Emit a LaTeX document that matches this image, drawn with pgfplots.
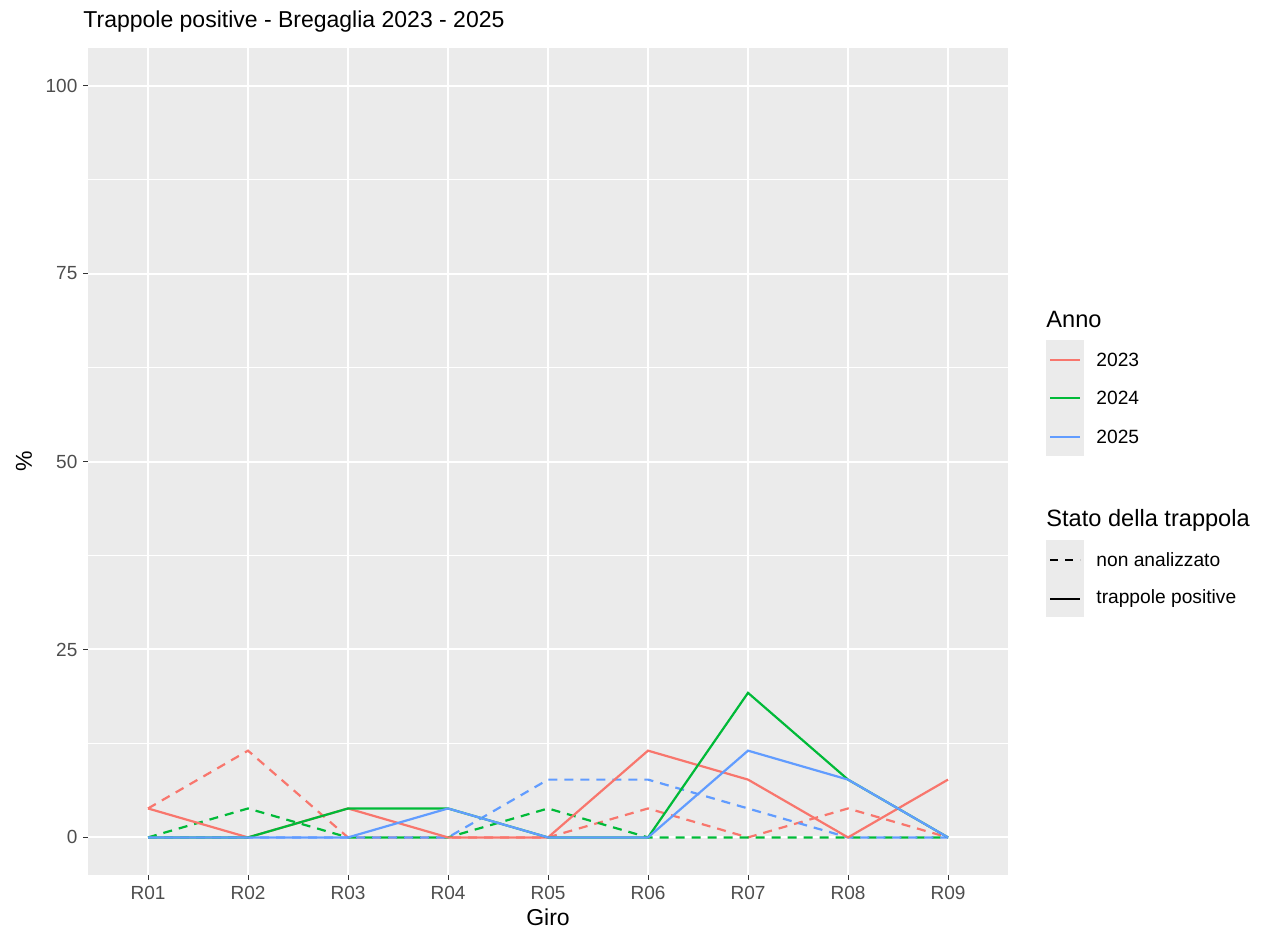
\documentclass[border=0pt]{standalone}
\usepackage{fontspec}
\setmainfont{Liberation Sans}
\usepackage{pgfplots}
\pgfplotsset{compat=1.18}
\definecolor{c23}{HTML}{F8766D}
\definecolor{c24}{HTML}{00BA38}
\definecolor{c25}{HTML}{619CFF}
\definecolor{bgc}{HTML}{EBEBEB}
\definecolor{labc}{HTML}{4D4D4D}
\definecolor{tickc}{HTML}{333333}
\begin{document}
\begin{tikzpicture}
\path[use as bounding box] (0,0) rectangle (631.5pt,-465.5pt);
\node[anchor=west,inner sep=0pt,font=\fontsize{11.5}{13}\selectfont] at (41.5pt,-11pt) {Trappole positive - Bregaglia 2023 - 2025};
\begin{axis}[
  at={(44pt,-437.5pt)}, anchor=south west,
  scale only axis, width=460pt, height=413.5pt,
  xmin=-0.6, xmax=8.6, ymin=-5, ymax=105,
  xtick={0,...,8},
  xticklabels={R01,R02,R03,R04,R05,R06,R07,R08,R09},
  ytick={0,25,50,75,100},
  minor ytick={12.5,37.5,62.5,87.5},
  xtick pos=bottom, ytick pos=left,
  grid=both,
  major grid style={white, line width=1pt},
  minor grid style={white, line width=0.5pt},
  axis background/.style={fill=bgc},
  axis line style={draw=none},
  tick style={color=tickc, line width=0.5pt},
  tick align=outside, major tick length=2.3pt, minor tick length=0pt,
  ticklabel style={font=\fontsize{9.5}{11}\selectfont, text=labc},
  yticklabel style={xshift=0.5pt},
  /pgf/number format/assume math mode=true,
  xlabel={Giro}, ylabel={\%},
  label style={font=\fontsize{11.5}{13}\selectfont},
  xlabel style={yshift=2.5pt},
  ylabel style={yshift=0pt},
  every axis plot/.append style={line width=1.1pt},
]
\addplot[c23, dash pattern=on 4.5pt off 3.5pt] coordinates {(0,3.85) (1,11.54) (2,0) (3,0) (4,0) (5,3.85) (6,0) (7,3.85) (8,0)};
\addplot[c24, dash pattern=on 4.5pt off 3.5pt] coordinates {(0,0) (1,3.85) (2,0) (3,0) (4,3.85) (5,0) (6,0) (7,0) (8,0)};
\addplot[c25, dash pattern=on 4.5pt off 3.5pt] coordinates {(0,0) (1,0) (2,0) (3,0) (4,7.69) (5,7.69) (6,3.85) (7,0) (8,0)};
\addplot[c23] coordinates {(0,3.85) (1,0) (2,3.85) (3,0) (4,0) (5,11.54) (6,7.69) (7,0) (8,7.69)};
\addplot[c24] coordinates {(0,0) (1,0) (2,3.85) (3,3.85) (4,0) (5,0) (6,19.23) (7,7.69) (8,0)};
\addplot[c25] coordinates {(0,0) (1,0) (2,0) (3,3.85) (4,0) (5,0) (6,11.54) (7,7.69) (8,0)};
\end{axis}
% legend 1
\node[anchor=west,inner sep=0pt,font=\fontsize{11.8}{13}\selectfont] at (523pt,-159.5pt) {Anno};
\fill[bgc] (523pt,-170pt) rectangle (542pt,-228pt);
\draw[c23,line width=1.1pt] (525pt,-180pt) -- (540pt,-180pt);
\draw[c24,line width=1.1pt] (525pt,-199pt) -- (540pt,-199pt);
\draw[c25,line width=1.1pt] (525pt,-218.5pt) -- (540pt,-218.5pt);
\node[anchor=west,font=\fontsize{9.6}{11}\selectfont,inner sep=0pt] at (548pt,-180pt) {2023};
\node[anchor=west,font=\fontsize{9.6}{11}\selectfont,inner sep=0pt] at (548pt,-199pt) {2024};
\node[anchor=west,font=\fontsize{9.6}{11}\selectfont,inner sep=0pt] at (548pt,-218.5pt) {2025};
% legend 2
\node[anchor=west,inner sep=0pt,font=\fontsize{11.8}{13}\selectfont] at (523pt,-260pt) {Stato della trappola};
\fill[bgc] (523pt,-270pt) rectangle (542pt,-308.5pt);
\draw[black,line width=1.1pt,dash pattern=on 4pt off 3.5pt] (525pt,-280pt) -- (540pt,-280pt);
\draw[black,line width=1.1pt] (525pt,-299.5pt) -- (540pt,-299.5pt);
\node[anchor=west,font=\fontsize{9.6}{11}\selectfont,inner sep=0pt] at (548pt,-280pt) {non analizzato};
\node[anchor=west,font=\fontsize{9.6}{11}\selectfont,inner sep=0pt] at (548pt,-299.5pt) {trappole positive};
\end{tikzpicture}
\end{document}
